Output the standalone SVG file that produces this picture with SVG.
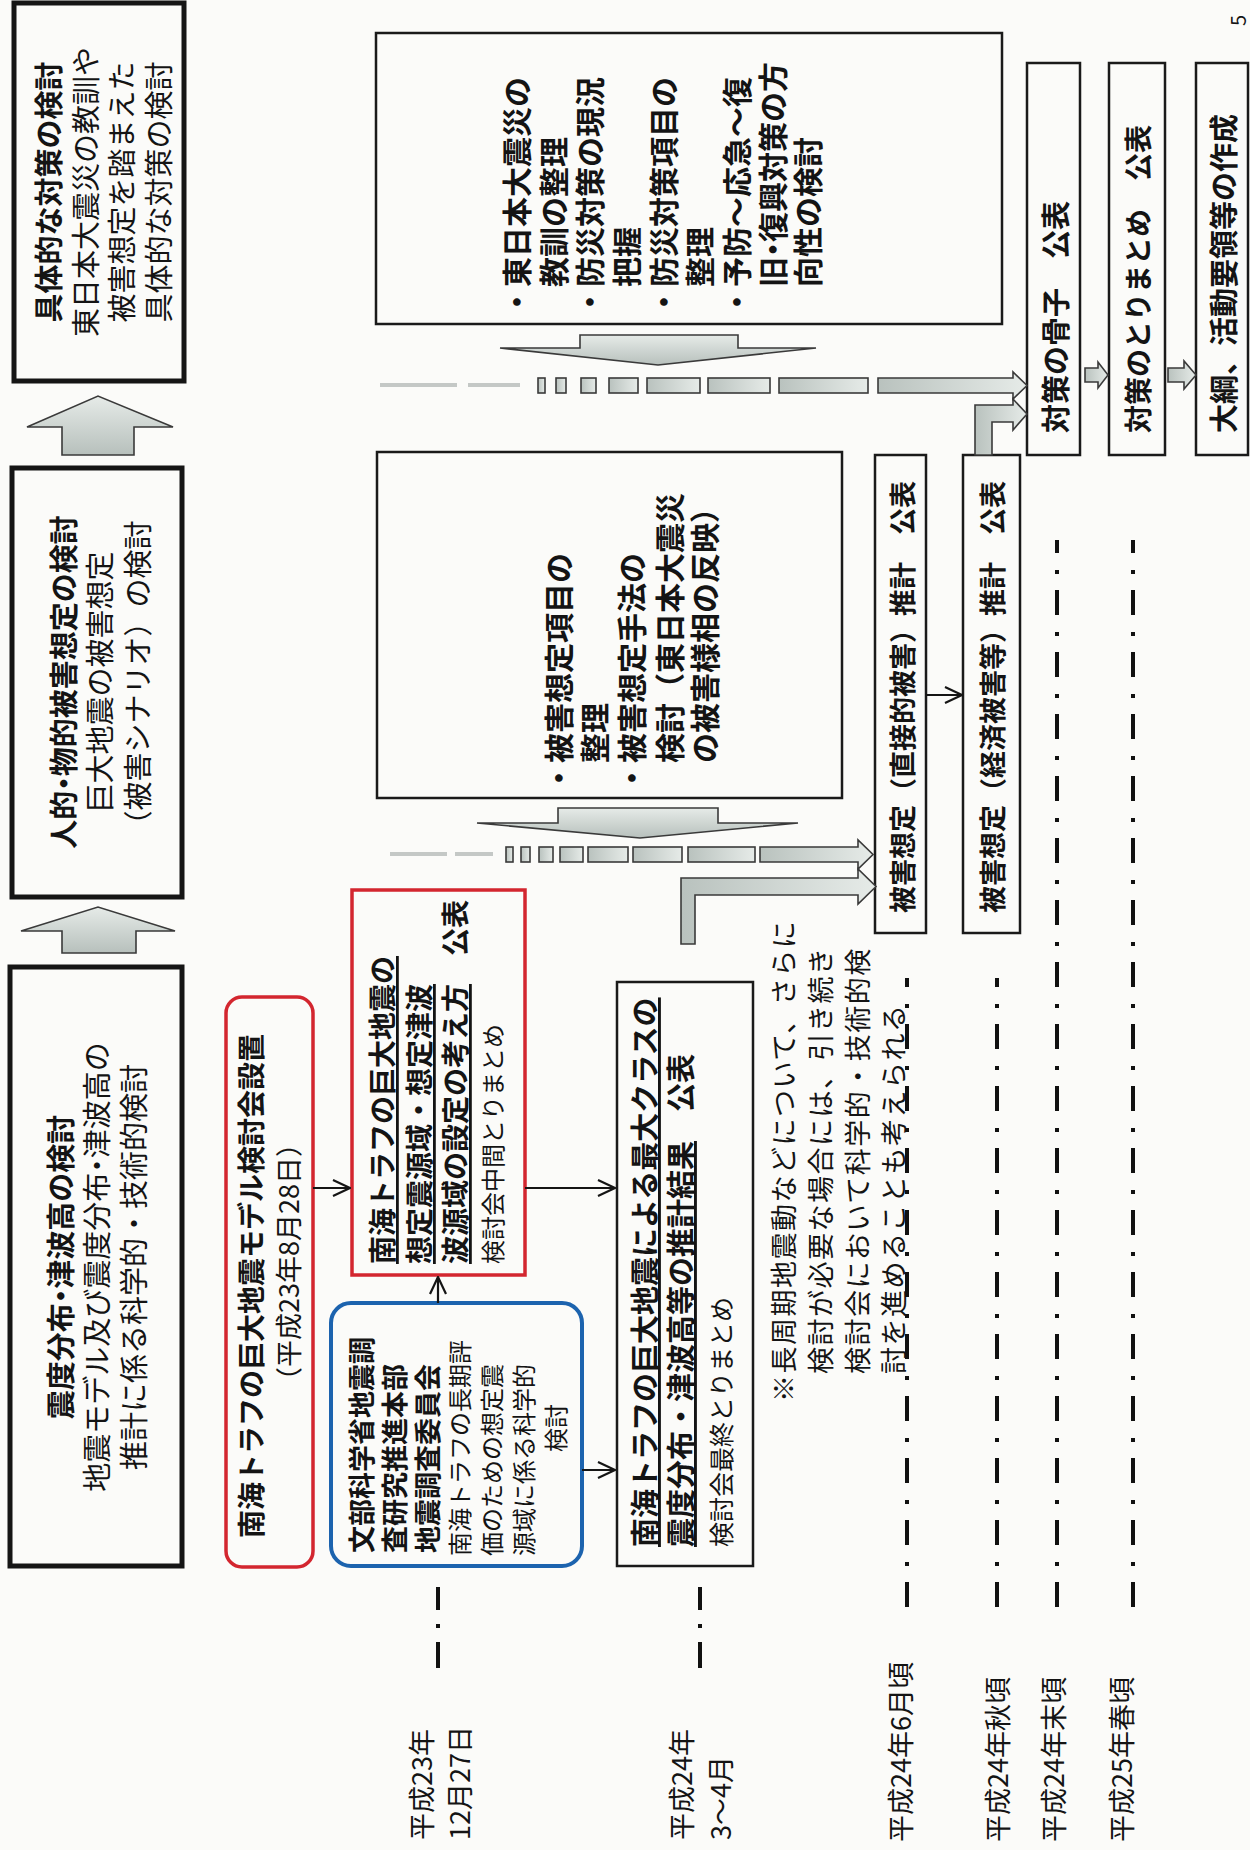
<svg xmlns="http://www.w3.org/2000/svg" width="1250" height="1850" viewBox="0 0 1250 1850">
<defs>
<style>
text{font-family:"Noto Sans CJK JP","Noto Sans CJK SC",sans-serif;dominant-baseline:central;fill:#141414}
.b{font-weight:bold}
.m{text-anchor:middle}
.h{font-feature-settings:"halt" 1}
.f30{font-size:30px}.f29{font-size:29px}.f28{font-size:28px}.f27{font-size:27px}.f25{font-size:25px}.f24{font-size:24px}
.nt{font-size:27px;letter-spacing:1.5px}
.u{text-decoration:underline}
.box{fill:none;stroke:#1a1a1a;stroke-width:2.5}
.thick{fill:none;stroke:#151515;stroke-width:5}
.red{fill:none;stroke:#d3262f;stroke-width:3.5}
.blue{fill:none;stroke:#1c63ae;stroke-width:4}
.blk{fill:url(#gv);stroke:#3a3a3a;stroke-width:1.6;stroke-linejoin:miter}
.blh{fill:url(#gh);stroke:#3a3a3a;stroke-width:1.6}
.faint{stroke:#c4c8c6;stroke-width:4}
.con{fill:none;stroke:#151515;stroke-width:2.2;marker-end:url(#ah)}
.dd{fill:none;stroke:#111;stroke-width:4;stroke-dasharray:25 16 4 17}
.ds{fill:none;stroke:#111;stroke-width:4;stroke-dasharray:26 14 4 14}
</style>
<linearGradient id="gv" x1="0" y1="0" x2="0" y2="1"><stop offset="0" stop-color="#e6ebe8"/><stop offset="1" stop-color="#b7c0bc"/></linearGradient>
<linearGradient id="gh" x1="0" y1="0" x2="1" y2="0"><stop offset="0" stop-color="#b9c2be"/><stop offset="1" stop-color="#e6ebe8"/></linearGradient>
<marker id="ah" viewBox="0 0 20 18" refX="19" refY="9" markerWidth="20" markerHeight="18" markerUnits="userSpaceOnUse" orient="auto"><path d="M2,1 L19,9 L2,17" fill="none" stroke="#151515" stroke-width="2.2"/></marker>
</defs>
<rect width="1250" height="1850" fill="#fbfbf9"/>

<!-- left column -->
<g id="box-taisaku">
<rect x="14" y="3" width="170" height="378" class="thick"/>
<text class="b f29 m" transform="translate(47 192) rotate(-90)">具体的な対策の検討</text>
<text class="f29 m" transform="translate(84 192) rotate(-90)">東日本大震災の教訓や</text>
<text class="f29 m" transform="translate(120 192) rotate(-90)">被害想定を踏まえた</text>
<text class="f29 m" transform="translate(157 192) rotate(-90)">具体的な対策の検討</text>
</g>
<g id="box-higai">
<rect x="12" y="468" width="170" height="429" class="thick"/>
<text class="b f29 m" transform="translate(62 682) rotate(-90)">人的<tspan class="h">・</tspan>物的被害想定の検討</text>
<text class="f29 m" transform="translate(98 682) rotate(-90)">巨大地震の被害想定</text>
<text class="f29 m" transform="translate(136 680) rotate(-90)">（被害シナリオ）の検討</text>
</g>
<g id="box-shindo">
<rect x="10" y="967" width="172" height="599" class="thick"/>
<text class="b f29 m" transform="translate(59 1267) rotate(-90)">震度分布<tspan class="h">・</tspan>津波高の検討</text>
<text class="f29 m" transform="translate(95 1267) rotate(-90)">地震モデル及び震度分布<tspan class="h">・</tspan>津波高の</text>
<text class="f29 m" transform="translate(132 1267) rotate(-90)">推計に係る科学的・技術的検討</text>
</g>

<!-- middle -->
<g id="box-kentokai">
<rect x="226" y="997" width="87" height="570" rx="16" class="red"/>
<text class="b f28 m" transform="translate(250 1286) rotate(-90)">南海トラフの巨大地震モデル検討会設置</text>
<text class="f27 m" transform="translate(287 1262) rotate(-90)">（平成23年8月28日）</text>
</g>
<g id="box-chukan">
<rect x="352" y="890" width="173" height="385" class="red"/>
<text class="b f28" transform="translate(381 1264) rotate(-90)"><tspan class="u">南海トラフの巨大地震の</tspan></text>
<text class="b f28" transform="translate(418 1264) rotate(-90)"><tspan class="u">想定震源域・想定津波</tspan></text>
<text class="b f28" transform="translate(454 1264) rotate(-90)"><tspan class="u">波源域の設定の考え方</tspan>　公表</text>
<text class="f24" transform="translate(491 1264) rotate(-90)">検討会中間とりまとめ</text>
</g>
<g id="box-jishin-chosa">
<rect x="331" y="1303" width="251" height="263" rx="20" class="blue"/>
<text class="b f27" transform="translate(360 1553) rotate(-90)">文部科学省地震調</text>
<text class="b f27" transform="translate(393 1553) rotate(-90)">査研究推進本部</text>
<text class="b f27" transform="translate(426 1553) rotate(-90)">地震調査委員会</text>
<text class="f24" transform="translate(458 1556) rotate(-90)">南海トラフの長期評</text>
<text class="f24" transform="translate(490 1556) rotate(-90)">価のための想定震</text>
<text class="f24" transform="translate(522 1556) rotate(-90)">源域に係る科学的</text>
<text class="f24 m" transform="translate(554 1428) rotate(-90)">検討</text>
</g>
<g id="box-saishu">
<rect x="617" y="982" width="136" height="584" class="box"/>
<text class="b f29" transform="translate(643 1547) rotate(-90)"><tspan class="u">南海トラフの巨大地震による最大クラスの</tspan></text>
<text class="b f29" transform="translate(679 1547) rotate(-90)"><tspan class="u">震度分布・津波高等の推計結果</tspan>　公表</text>
<text class="f25" transform="translate(720 1547) rotate(-90)">検討会最終とりまとめ</text>
</g>
<g id="note">
<text class="nt" transform="translate(782 1402) rotate(-90)">※長周期地震動などについて、さらに</text>
<text class="nt" transform="translate(819 1374) rotate(-90)">検討が必要な場合には、引き続き</text>
<text class="nt" transform="translate(856 1374) rotate(-90)">検討会において科学的・技術的検</text>
<text class="nt" transform="translate(892 1374) rotate(-90)">討を進めることも考えられる</text>
</g>

<g id="box-A">
<rect x="376" y="33" width="626" height="291" class="box"/>
<text class="b f30" transform="translate(515 317) rotate(-90)">・東日本大震災の</text>
<text class="b f30" transform="translate(552 287) rotate(-90)">教訓の整理</text>
<text class="b f30" transform="translate(588 317) rotate(-90)">・防災対策の現況</text>
<text class="b f30" transform="translate(625 287) rotate(-90)">把握</text>
<text class="b f30" transform="translate(662 317) rotate(-90)">・防災対策項目の</text>
<text class="b f30" transform="translate(698 287) rotate(-90)">整理</text>
<text class="b f30" transform="translate(735 317) rotate(-90)">・予防〜応急〜復</text>
<text class="b f30" transform="translate(771 287) rotate(-90)">旧<tspan class="h">・</tspan>復興対策の方</text>
<text class="b f30" transform="translate(806 287) rotate(-90)">向性の検討</text>
</g>
<g id="box-B">
<rect x="377" y="452" width="465" height="346" class="box"/>
<text class="b f30" transform="translate(557 793) rotate(-90)">・被害想定項目の</text>
<text class="b f30" transform="translate(593 763) rotate(-90)">整理</text>
<text class="b f30" transform="translate(630 793) rotate(-90)">・被害想定手法の</text>
<text class="b f30" transform="translate(668 763) rotate(-90)">検討（東日本大震災</text>
<text class="b f30" transform="translate(703 763) rotate(-90)">の被害様相の反映）</text>
</g>
<g id="box-chokusetsu">
<rect x="875" y="455" width="51" height="478" class="box"/>
<text class="b f27" transform="translate(901 913) rotate(-90)">被害想定（直接的被害）推計　公表</text>
</g>
<g id="box-keizai">
<rect x="963" y="455" width="57" height="478" class="box"/>
<text class="b f27" transform="translate(991 913) rotate(-90)">被害想定（経済被害等）推計　公表</text>
</g>
<g id="box-kosshi">
<rect x="1027" y="63" width="53" height="392" class="box"/>
<text class="b f29" transform="translate(1054 433) rotate(-90)">対策の骨子　公表</text>
</g>
<g id="box-torimatome">
<rect x="1109" y="63" width="56" height="392" class="box"/>
<text class="b f28" transform="translate(1137 433) rotate(-90)">対策のとりまとめ　公表</text>
</g>
<g id="box-taiko">
<rect x="1196" y="63" width="52" height="392" class="box"/>
<text class="b f29" transform="translate(1222 433) rotate(-90)">大綱、活動要領等の作成</text>
</g>

<g id="timeline-labels">
<text class="f27" transform="translate(420 1840) rotate(-90)">平成23年</text>
<text class="f27" transform="translate(458 1840) rotate(-90)">12月27日</text>
<text class="f27" transform="translate(680 1840) rotate(-90)">平成24年</text>
<text class="f27" transform="translate(719 1840) rotate(-90)">3〜4月</text>
<text class="f27" transform="translate(899 1842) rotate(-90)">平成24年6月頃</text>
<text class="f27" transform="translate(996 1842) rotate(-90)">平成24年秋頃</text>
<text class="f27" transform="translate(1052 1842) rotate(-90)">平成24年末頃</text>
<text class="f27" transform="translate(1120 1842) rotate(-90)">平成25年春頃</text>
<text style="font-size:20px" transform="translate(1237 26) rotate(-90)">5</text>
</g>

<g id="timeline-lines">
<path class="ds" d="M438,1668 V1587"/>
<path class="ds" d="M700,1668 V1587"/>
<path class="dd" d="M907,1607 V978"/>
<path class="dd" d="M997,1607 V978"/>
<path class="dd" d="M1057,1607 V540"/>
<path class="dd" d="M1133,1607 V540"/>
</g>

<g id="connectors">
<polygon class="blk" points="62,455 62,427 27,427 98,396 173,427 134,427 134,455"/>
<polygon class="blk" points="62,953 62,931 21,931 98,907 175,931 136,931 136,953"/>
<polygon class="blk" points="580,335 738,335 738,348 816,348 658,365 500,348 580,348"/>
<polygon class="blk" points="558,808 718,808 718,823 798,823 640,838 477,823 558,823"/>
<line class="faint" x1="380" y1="385" x2="457" y2="385"/>
<line class="faint" x1="468" y1="385" x2="520" y2="385"/>
<g class="blh">
<rect x="538" y="378" width="7" height="15"/>
<rect x="556" y="378" width="10" height="15"/>
<rect x="581" y="378" width="15" height="15"/>
<rect x="609" y="378" width="29" height="15"/>
<rect x="647" y="378" width="53" height="15"/>
<rect x="708" y="378" width="62" height="15"/>
<rect x="779" y="378" width="89" height="15"/>
<polygon points="878,378 1013,378 1013,372 1027,385.5 1013,399 1013,393 878,393"/>
<polygon points="975,455 975,405 1013,405 1013,399 1027,414 1013,430 1013,422 992,422 992,455"/>
</g>
<line class="faint" x1="390" y1="854" x2="447" y2="854"/>
<line class="faint" x1="455" y1="854" x2="493" y2="854"/>
<g class="blh">
<rect x="506" y="847" width="7" height="15"/>
<rect x="521" y="847" width="9" height="15"/>
<rect x="539" y="847" width="14" height="15"/>
<rect x="560" y="847" width="23" height="15"/>
<rect x="588" y="847" width="40" height="15"/>
<rect x="633" y="847" width="49" height="15"/>
<rect x="688" y="847" width="67" height="15"/>
<polygon points="760,847 858,847 858,840 873,854.5 858,869 858,862 760,862"/>
<polygon points="681,944 681,878 858,878 858,869 876,886.5 858,904 858,895 695,895 695,944"/>
</g>
<polygon class="blh" points="1085,368 1098,368 1098,362 1108,375 1098,388 1098,382 1085,382"/>
<polygon class="blh" points="1168,368 1184,368 1184,361 1196,375 1184,389 1184,382 1168,382"/>
<path class="con" d="M313,1188 H350"/>
<path class="con" d="M525,1188 H615"/>
<path class="con" d="M438,1303 V1277"/>
<path class="con" d="M582,1470 H615"/>
<path class="con" d="M926,695 H962"/>
</g>
</svg>
